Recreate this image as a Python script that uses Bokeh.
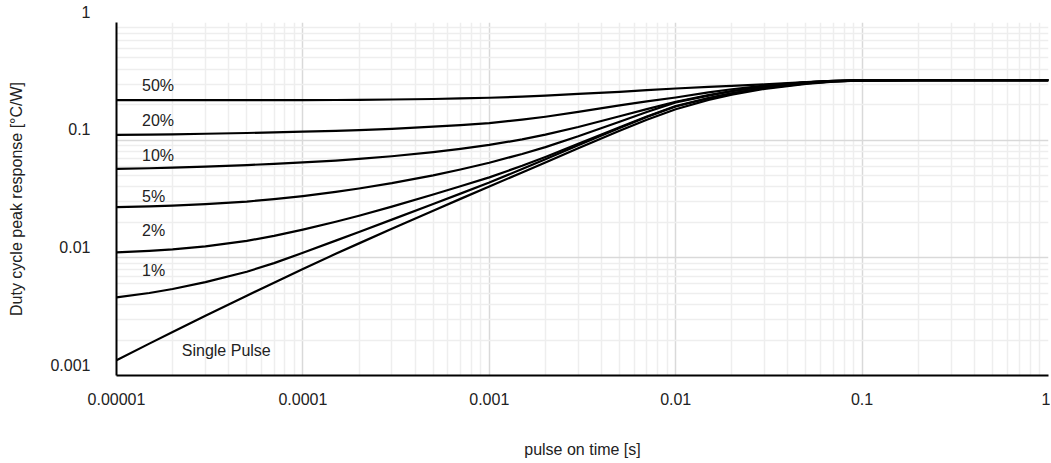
from bokeh.plotting import figure
from bokeh.models import FixedTicker, CustomJSTickFormatter, Range1d
from bokeh.core.properties import value
from bokeh.embed import file_html
from bokeh.resources import INLINE

# pulse on time [s]
t = [1e-5, 1.5e-5, 2e-5, 3e-5, 5e-5, 7e-5,
     1e-4, 1.5e-4, 2e-4, 3e-4, 5e-4, 7e-4,
     1e-3, 1.5e-3, 2e-3, 3e-3, 5e-3, 7e-3,
     1e-2, 1.5e-2, 2e-2, 3e-2, 5e-2, 7e-2,
     0.1, 0.2, 0.5, 1.0]

# peak response [degC/W] per duty cycle
d50 = [0.2188, 0.2188, 0.2188, 0.2188, 0.2188, 0.2188,
       0.2190, 0.2195, 0.2203, 0.2216, 0.2239, 0.2262,
       0.2294, 0.2344, 0.2393, 0.2472, 0.2576, 0.2661,
       0.2748, 0.2838, 0.2897, 0.2979, 0.3110, 0.3190,
       0.3228, 0.3232, 0.3236, 0.3236]
d20 = [0.1109, 0.1116, 0.1122, 0.1134, 0.1151, 0.1165,
       0.1182, 0.1201, 0.1218, 0.1249, 0.1301, 0.1341,
       0.1394, 0.1494, 0.1582, 0.1737, 0.1974, 0.2140,
       0.2306, 0.2546, 0.2709, 0.2917, 0.3104, 0.3184,
       0.3228, 0.3232, 0.3236, 0.3236]
d10 = [0.05702, 0.05772, 0.05839, 0.05958, 0.06144, 0.06289,
       0.06471, 0.06711, 0.06928, 0.07303, 0.07925, 0.08447,
       0.09107, 0.1016, 0.1114, 0.1294, 0.1596, 0.1837,
       0.2120, 0.2417, 0.2619, 0.2872, 0.3099, 0.3186,
       0.3229, 0.3232, 0.3236, 0.3236]
d5 = [0.02698, 0.02742, 0.02780, 0.02858, 0.03006, 0.03155,
      0.03350, 0.03633, 0.03882, 0.04314, 0.05028, 0.05636,
      0.06433, 0.07625, 0.08733, 0.1078, 0.1435, 0.1733,
      0.2094, 0.2393, 0.2606, 0.2864, 0.3097, 0.3184,
      0.3228, 0.3232, 0.3236, 0.3236]
d2 = [0.01112, 0.01148, 0.01182, 0.01250, 0.01393, 0.01535,
      0.01738, 0.02027, 0.02281, 0.02726, 0.03449, 0.04053,
      0.04829, 0.06058, 0.07201, 0.09297, 0.1289, 0.1588,
      0.1950, 0.2280, 0.2500, 0.2780, 0.3048, 0.3162,
      0.3228, 0.3232, 0.3236, 0.3236]
d1 = [0.004613, 0.005023, 0.005433, 0.006209, 0.007621, 0.009016,
      0.01104, 0.01400, 0.01660, 0.02113, 0.02871, 0.03512,
      0.04360, 0.05692, 0.06893, 0.09045, 0.1271, 0.1573,
      0.1931, 0.2270, 0.2495, 0.2773, 0.3041, 0.3155,
      0.3228, 0.3232, 0.3236, 0.3236]
single = [0.001349, 0.001866, 0.002344, 0.003214, 0.004764, 0.006152,
          0.008054, 0.01081, 0.01327, 0.01766, 0.02518, 0.03170,
          0.04036, 0.05321, 0.06471, 0.08531, 0.1202, 0.1489,
          0.1832, 0.2198, 0.2438, 0.2729, 0.3006, 0.3141,
          0.3221, 0.3232, 0.3236, 0.3236]
series = [d50, d20, d10, d5, d2, d1, single]

# curve labels
label_text = ["50%", "20%", "10%", "5%", "2%", "1%", "Single Pulse"]
label_x = [1.37e-5, 1.37e-5, 1.37e-5, 1.37e-5, 1.37e-5, 1.37e-5, 2.24e-5]
label_y = [0.293, 0.148, 0.0736, 0.0334, 0.01696, 0.00776, 0.00164]

# ticks
x_ticks = [1e-5, 1e-4, 1e-3, 1e-2, 1e-1, 1.0]
y_ticks = [1e-3, 1e-2, 1e-1, 1.0]
x_title = "pulse on time [s]"
y_title = "Duty cycle peak response [°C/W]"

FONT = "Liberation Sans"
FS = "16px"


def minors(decades):
    out = []
    for d in decades[:-1]:
        for k in range(2, 10):
            out.append(d * k)
    return out


p = figure(width=1050, height=462, x_axis_type="log", y_axis_type="log",
           x_range=Range1d(1e-5, 1.0), y_range=Range1d(1e-3, 1.0),
           output_backend="svg", toolbar_location=None,
           min_border_left=116, min_border_right=2, min_border_top=22, min_border_bottom=87)
p.outline_line_color = None
p.background_fill_color = "white"

xfmt = CustomJSTickFormatter(code="""
const n = Math.max(0, -Math.round(Math.log10(tick)));
return tick.toFixed(n);
""")
# label sits just above its gridline
yfmt = CustomJSTickFormatter(code="""
const n = Math.max(0, -Math.round(Math.log10(tick)));
return tick.toFixed(n) + "\\n ";
""")

p.xaxis.ticker = FixedTicker(ticks=x_ticks, minor_ticks=minors(x_ticks))
p.yaxis.ticker = FixedTicker(ticks=y_ticks, minor_ticks=minors(y_ticks))
p.xaxis.formatter = xfmt
p.yaxis.formatter = yfmt
for ax in (p.xaxis, p.yaxis):
    ax.axis_line_color = "black"
    ax.axis_line_width = 2
    ax.major_tick_line_color = None
    ax.minor_tick_line_color = None
    ax.major_tick_out = 0
    ax.major_tick_in = 0
    ax.minor_tick_out = 0
    ax.minor_tick_in = 0
    ax.major_label_text_font = FONT
    ax.major_label_text_font_size = FS
    ax.major_label_text_color = "#222222"
    ax.axis_label_text_font = FONT
    ax.axis_label_text_font_size = FS
    ax.axis_label_text_font_style = "normal"
    ax.axis_label_text_color = "#222222"

p.xaxis.axis_label = x_title
p.yaxis.axis_label = y_title
p.xaxis.major_label_standoff = 17
p.xaxis.axis_label_standoff = 33
p.yaxis.major_label_standoff = 26
p.yaxis.axis_label_standoff = 22

for g in (p.xgrid, p.ygrid):
    g.grid_line_color = "#d9d9d9"
    g.grid_line_width = 1.5
    g.minor_grid_line_color = "#eeeeee"
    g.minor_grid_line_width = 1.5

for ys in series:
    p.line(t, ys, line_color="black", line_width=2.2, line_join="round")

p.text(x=label_x, y=label_y, text=label_text, text_font=value(FONT),
       text_font_size=value(FS), text_color="#222222",
       text_align="left", text_baseline="middle")

open("out.html", "w").write(file_html(p, INLINE))
